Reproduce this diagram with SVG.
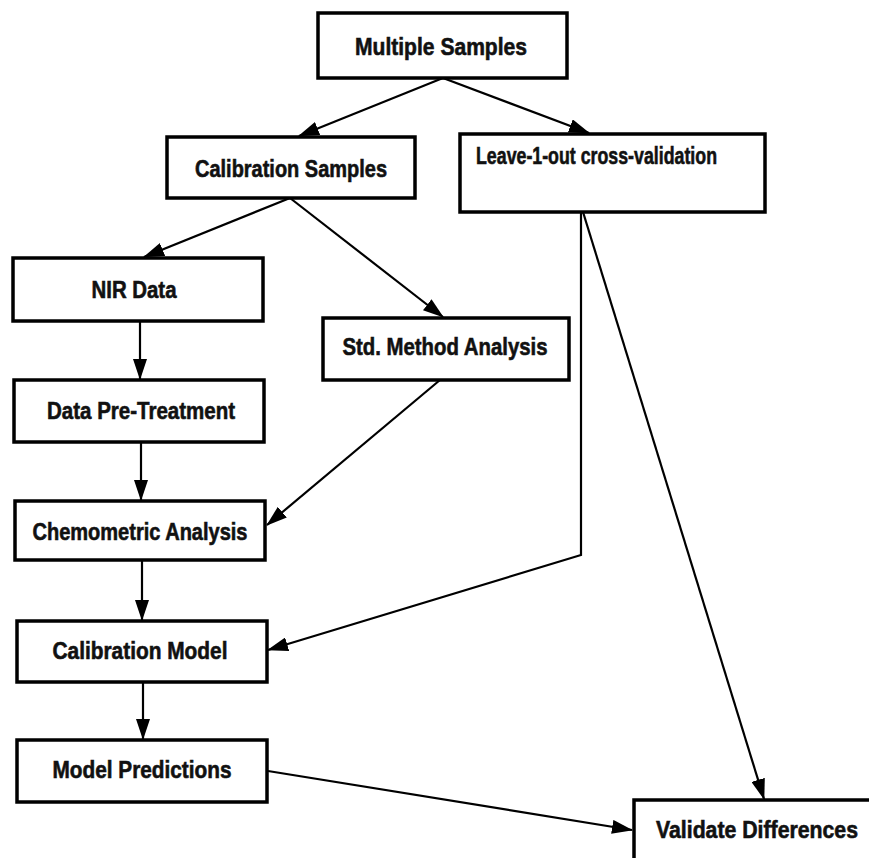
<svg xmlns="http://www.w3.org/2000/svg" width="869" height="858" viewBox="0 0 869 858">
<style>
.box{fill:#fff;stroke:#000;stroke-width:3.5}
.t{font-family:"Liberation Sans",Arial,sans-serif;font-weight:bold;font-size:24px;fill:#111;stroke:#111;stroke-width:0.6}
.c{fill:none;stroke:#000;stroke-width:2.2}
</style>
<defs>
<marker id="ah" markerWidth="22" markerHeight="14" refX="20" refY="7" orient="auto" markerUnits="userSpaceOnUse">
<path d="M0,0 L21,7 L0,14 Z" fill="#000"/>
</marker>
</defs>
<rect width="869" height="858" fill="#fff"/>
<g id="connectors">
<line class="c" x1="443" y1="78" x2="299" y2="136" marker-end="url(#ah)"/>
<line class="c" x1="443" y1="78" x2="589" y2="133" marker-end="url(#ah)"/>
<line class="c" x1="290" y1="198" x2="144" y2="257" marker-end="url(#ah)"/>
<line class="c" x1="290" y1="198" x2="443" y2="317" marker-end="url(#ah)"/>
<line class="c" x1="140" y1="321" x2="140" y2="379" marker-end="url(#ah)"/>
<line class="c" x1="141" y1="442" x2="141" y2="500" marker-end="url(#ah)"/>
<line class="c" x1="440" y1="380" x2="267" y2="525" marker-end="url(#ah)"/>
<line class="c" x1="142" y1="560" x2="142" y2="620" marker-end="url(#ah)"/>
<polyline class="c" points="581,212 581,555 268,650" marker-end="url(#ah)"/>
<line class="c" x1="583" y1="212" x2="764" y2="799" marker-end="url(#ah)"/>
<line class="c" x1="143" y1="682" x2="143" y2="739" marker-end="url(#ah)"/>
<line class="c" x1="268" y1="771" x2="632" y2="830" marker-end="url(#ah)"/>
</g>
<g id="multiple-samples"><rect class="box" x="318" y="13" width="249" height="65"/><text class="t" x="441" y="55" text-anchor="middle" textLength="172" lengthAdjust="spacingAndGlyphs">Multiple Samples</text></g>
<g id="calibration-samples"><rect class="box" x="167" y="137" width="248" height="61"/><text class="t" x="291" y="177" text-anchor="middle" textLength="192" lengthAdjust="spacingAndGlyphs">Calibration Samples</text></g>
<g id="leave-1-out"><rect class="box" x="460" y="134" width="305" height="78"/><text class="t" x="476" y="164" font-size="21" textLength="241" lengthAdjust="spacingAndGlyphs">Leave-1-out cross-validation</text></g>
<g id="nir-data"><rect class="box" x="13" y="258" width="250" height="63"/><text class="t" x="134" y="298" text-anchor="middle" textLength="85" lengthAdjust="spacingAndGlyphs">NIR Data</text></g>
<g id="data-pretreatment"><rect class="box" x="14" y="380" width="250" height="62"/><text class="t" x="141" y="419" text-anchor="middle" textLength="188" lengthAdjust="spacingAndGlyphs">Data Pre-Treatment</text></g>
<g id="std-method"><rect class="box" x="323" y="318" width="246" height="62"/><text class="t" x="445" y="355" text-anchor="middle" textLength="205" lengthAdjust="spacingAndGlyphs">Std. Method Analysis</text></g>
<g id="chemometric"><rect class="box" x="15" y="501" width="250" height="59"/><text class="t" x="140" y="540" text-anchor="middle" textLength="215" lengthAdjust="spacingAndGlyphs">Chemometric Analysis</text></g>
<g id="calibration-model"><rect class="box" x="17" y="621" width="250" height="61"/><text class="t" x="140" y="659" text-anchor="middle" textLength="175" lengthAdjust="spacingAndGlyphs">Calibration Model</text></g>
<g id="model-predictions"><rect class="box" x="17" y="740" width="250" height="62"/><text class="t" x="142" y="778" text-anchor="middle" textLength="179" lengthAdjust="spacingAndGlyphs">Model Predictions</text></g>
<g id="validate-differences"><rect class="box" x="634" y="800" width="260" height="80"/><text class="t" x="656" y="838" textLength="202" lengthAdjust="spacingAndGlyphs">Validate Differences</text></g>
</svg>
